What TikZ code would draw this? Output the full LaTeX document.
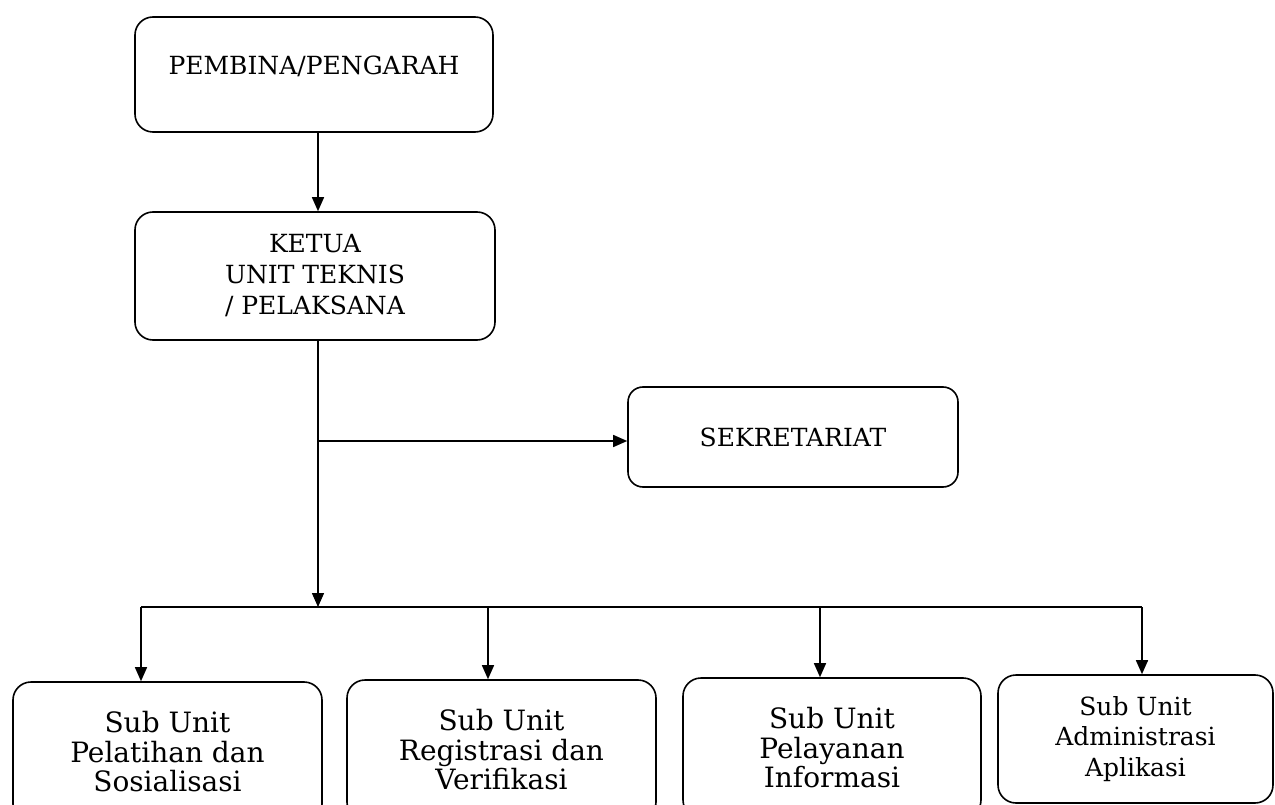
\documentclass[tikz,border=0pt]{standalone}
\usepackage{fontspec}
\setmainfont{DejaVu Serif}
\usetikzlibrary{arrows.meta}
\begin{document}
\begin{tikzpicture}[x=1pt,y=-1pt,
  box/.style={draw, line width=1.6pt, rounded corners=18pt, align=center, inner sep=0pt},
  topfont/.style={font=\fontsize{25}{31}\selectfont},
  subfont/.style={font=\fontsize{28}{29.5}\selectfont},
  smallsub/.style={font=\fontsize{25}{30.5}\selectfont},
  link/.style={line width=1.5pt, -{Triangle[length=14pt,width=12pt]}},
  plainline/.style={line width=1.5pt}]
\clip (0,0) rectangle (1275,805);
\useasboundingbox (0,0) rectangle (1275,805);

\node[box, topfont, minimum width=358pt, minimum height=115pt, text height=20pt, text depth=20pt] (pem) at (314,74.5) {PEMBINA/PENGARAH};
\node[box, topfont, minimum width=360pt, minimum height=128pt] (ket) at (315,276) {KETUA\\UNIT TEKNIS\\/ PELAKSANA};
\node[box, topfont, rounded corners=15pt, minimum width=330pt, minimum height=100pt] (sek) at (793,437) {SEKRETARIAT};

\node[box, subfont, minimum width=309pt, minimum height=140pt] (s1) at (167.5,752) {Sub Unit\\Pelatihan dan\\Sosialisasi};
\node[box, subfont, minimum width=309pt, minimum height=140pt] (s2) at (501.5,750) {Sub Unit\\Registrasi dan\\Verifikasi};
\node[box, subfont, minimum width=298pt, minimum height=140pt] (s3) at (832,748) {Sub Unit\\Pelayanan\\Informasi};
\node[box, smallsub, minimum width=275pt, minimum height=128pt] (s4) at (1135.5,739) {Sub Unit\\Administrasi\\Aplikasi};

\coordinate (br) at (318,441);
\coordinate (bar) at (318,607);
\coordinate (barL) at (141,607);
\coordinate (bar2) at (488,607);
\coordinate (bar3) at (820,607);
\coordinate (barR) at (1142,607);

\draw[link] ([xshift=4pt]pem.south) -- ([xshift=4pt]pem.south |- ket.north);
\draw[link] ([xshift=3pt]ket.south) -- (bar);
\draw[link] (br) -- (sek.west |- br);
\draw[plainline] (barL) -- (barR);
\draw[link] (barL) -- (barL |- s1.north);
\draw[link] (bar2) -- (bar2 |- s2.north);
\draw[link] (bar3) -- (bar3 |- s3.north);
\draw[link] (barR) -- (barR |- s4.north);
\end{tikzpicture}
\end{document}
